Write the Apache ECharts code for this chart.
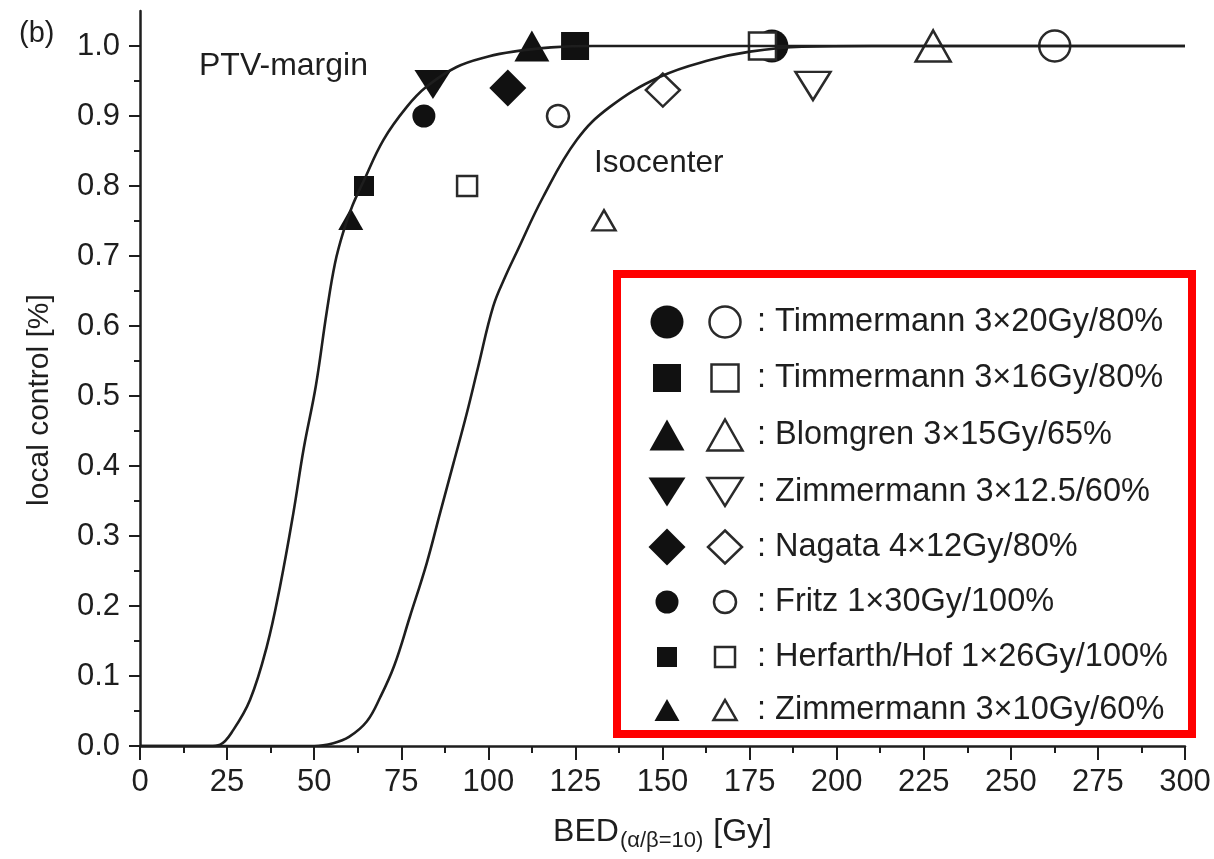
<!DOCTYPE html>
<html><head><meta charset="utf-8">
<script src="https://cdn.jsdelivr.net/npm/echarts@6/dist/echarts.min.js"></script>
<style>html,body{margin:0;padding:0;background:#fff}#c{width:1214px;height:859px}</style>
</head><body><div id="c"></div>
<script>
// ---- data ----
const studies = [
  'Timmermann 3×20Gy/80%',
  'Timmermann 3×16Gy/80%',
  'Blomgren 3×15Gy/65%',
  'Zimmermann 3×12.5/60%',
  'Nagata 4×12Gy/80%',
  'Fritz 1×30Gy/100%',
  'Herfarth/Hof 1×26Gy/100%',
  'Zimmermann 3×10Gy/60%'
];
// PTV-margin (filled symbols)
const ptvBED = [181.4, 124.9, 112.5, 84.1, 105.6, 81.5, 64.3, 60.5];
const ptvLC  = [1.0, 1.0, 1.0, 0.945, 0.94, 0.9, 0.8, 0.753];
// Isocenter (open symbols)
const isoBED = [262.6, 178.7, 227.7, 193.2, 150.1, 120.0, 93.9, 133.2];
const isoLC  = [1.0, 1.0, 1.0, 0.943, 0.937, 0.9, 0.8, 0.751];
// fitted curves
const curvePtvX = [0, 10, 20, 23, 26.8, 31.6, 36.4, 40.2, 44, 47, 50.5, 53.6, 56, 58.4, 61, 64.1, 69.9, 76.6, 82.3, 90.9, 100, 107.2, 118, 130, 150, 200, 250, 300];
const curvePtvY = [0, 0, 0, 0.002, 0.023, 0.066, 0.142, 0.228, 0.332, 0.425, 0.515, 0.62, 0.69, 0.735, 0.772, 0.806, 0.866, 0.913, 0.942, 0.97, 0.985, 0.992, 0.998, 1, 1, 1, 1, 1];
const curveIsoX = [0, 25, 50, 55.5, 60, 65.1, 69, 73, 77.5, 82.3, 86.1, 90, 93.8, 97, 101.4, 105, 108.1, 115.8, 125.4, 134.9, 149.3, 163.6, 175.1, 190, 210, 250, 300];
const curveIsoY = [0, 0, 0, 0.004, 0.013, 0.035, 0.07, 0.115, 0.185, 0.261, 0.332, 0.404, 0.475, 0.54, 0.628, 0.672, 0.705, 0.785, 0.866, 0.913, 0.956, 0.98, 0.992, 0.999, 1, 1, 1];
const yMajorTicks = [0, 0.1, 0.2, 0.3, 0.4, 0.5, 0.6, 0.7, 0.8, 0.9, 1.0];
const yMinorTicks = [0.05, 0.15, 0.25, 0.35, 0.45, 0.55, 0.65, 0.75, 0.85, 0.95];

// ---- styles ----
const FONT = '"Liberation Sans", Arial, Helvetica, sans-serif';
const INK = '#1e1e1e';
const shapes = ['circle', 'rect', 'triangle', 'triangle', 'diamond', 'circle', 'rect', 'triangle'];
const rotations = [0, 0, 0, 180, 0, 0, 0, 0];
const filledSizes = [[33, 33], [28, 28], [35, 31], [37, 29], [37, 37], [23, 23], [20, 20], [25, 22]];
const openSizes = [[31, 31], [27, 27], [35, 31], [35, 28], [34, 33], [22, 22], [20, 20], [23, 20]];
const legendRowsY = [322, 378, 435, 492, 547, 602, 657, 710];

const series = [];
studies.forEach((s, i) => {
  series.push({
    name: s + ' (PTV-margin)', type: 'scatter', z: 2,
    data: [[ptvBED[i], ptvLC[i]]],
    symbol: shapes[i], symbolRotate: rotations[i], symbolSize: filledSizes[i],
    itemStyle: { color: '#111', opacity: 1 }
  });
});
studies.forEach((s, i) => {
  series.push({
    name: s + ' (Isocenter)', type: 'scatter', z: 3,
    data: [[isoBED[i], isoLC[i]]],
    symbol: shapes[i], symbolRotate: rotations[i], symbolSize: openSizes[i],
    itemStyle: { color: '#fff', borderColor: '#2a2a2a', borderWidth: 2.5, opacity: 1 }
  });
});
series.push({
  name: 'PTV-margin fit', type: 'line', z: 4, symbol: 'none', smooth: 0.4,
  data: curvePtvX.map((x, i) => [x, curvePtvY[i]]),
  lineStyle: { color: INK, width: 2.6 }
});
series.push({
  name: 'Isocenter fit', type: 'line', z: 4, symbol: 'none', smooth: 0.4,
  data: curveIsoX.map((x, i) => [x, curveIsoY[i]]),
  lineStyle: { color: INK, width: 2.6 }
});

function legendSymbol(i, cx, cy, filled) {
  const sz = filled ? filledSizes[i] : openSizes[i];
  const w = sz[0], h = sz[1];
  const style = filled ? { fill: '#111', stroke: null } : { fill: '#fff', stroke: '#2a2a2a', lineWidth: 2.5 };
  const sh = shapes[i];
  if (sh === 'circle') return { type: 'circle', shape: { cx: cx, cy: cy, r: w / 2 }, style: style };
  if (sh === 'rect') return { type: 'rect', shape: { x: cx - w / 2, y: cy - h / 2, width: w, height: h }, style: style };
  if (sh === 'diamond') return { type: 'polygon', shape: { points: [[cx, cy - h / 2], [cx + w / 2, cy], [cx, cy + h / 2], [cx - w / 2, cy]] }, style: style };
  if (rotations[i] === 180) return { type: 'polygon', shape: { points: [[cx - w / 2, cy - h / 2], [cx + w / 2, cy - h / 2], [cx, cy + h / 2]] }, style: style };
  return { type: 'polygon', shape: { points: [[cx - w / 2, cy + h / 2], [cx + w / 2, cy + h / 2], [cx, cy - h / 2]] }, style: style };
}

const legendChildren = [{
  type: 'rect', shape: { x: 617, y: 274, width: 575, height: 460 },
  style: { fill: '#fff', stroke: '#ff0000', lineWidth: 8 }, z: 10
}];
studies.forEach((s, i) => {
  const cy = legendRowsY[i];
  const a = legendSymbol(i, 667, cy, true); a.z = 11; legendChildren.push(a);
  const b = legendSymbol(i, 725, cy, false); b.z = 11; legendChildren.push(b);
  legendChildren.push({
    type: 'text', x: 757, y: cy, z: 11,
    style: { text: ': ' + s, fontSize: 32.5, fontFamily: FONT, fill: INK, align: 'left', verticalAlign: 'middle', textAlign: 'left', textVerticalAlign: 'middle' }
  });
});

const annotations = [
  { type: 'text', x: 19, y: 34, style: { text: '(b)', fontSize: 29, fontFamily: FONT, fill: INK, verticalAlign: 'middle', textVerticalAlign: 'middle' } },
  { type: 'text', x: 199, y: 66, style: { text: 'PTV-margin', fontSize: 32, fontFamily: FONT, fill: INK, verticalAlign: 'middle', textVerticalAlign: 'middle' } },
  { type: 'text', x: 594, y: 163, style: { text: 'Isocenter', fontSize: 31.5, fontFamily: FONT, fill: INK, verticalAlign: 'middle', textVerticalAlign: 'middle' } },
  { type: 'text', x: 40, y: 400, rotation: Math.PI / 2, style: { text: 'local control [%]', fontSize: 30, fontFamily: FONT, fill: INK, align: 'center', verticalAlign: 'middle', textAlign: 'center', textVerticalAlign: 'middle' } }
];

const chart = echarts.init(document.getElementById('c'), null, { renderer: 'canvas' });
chart.setOption({
  animation: false,
  backgroundColor: '#fff',
  textStyle: { fontFamily: FONT },
  grid: { left: 140, right: 29, top: 11, bottom: 113, containLabel: false },
  xAxis: {
    type: 'value', min: 0, max: 300, interval: 25,
    axisLine: { show: true, onZero: false, lineStyle: { color: INK, width: 2.5 } },
    axisTick: { show: true, length: 14, lineStyle: { color: INK, width: 2 } },
    minorTick: { show: true, splitNumber: 2, length: 7, lineStyle: { color: INK, width: 2 } },
    splitLine: { show: false }, minorSplitLine: { show: false },
    axisLabel: { fontSize: 31, color: INK, margin: 21, fontFamily: FONT },
    name: '{a|BED}{s|(α/β=10)}{a| [Gy]}',
    nameLocation: 'middle', nameGap: 70,
    nameTextStyle: {
      color: INK, fontFamily: FONT, fontSize: 32,
      rich: {
        a: { fontSize: 32, fontFamily: FONT, color: INK, verticalAlign: 'top', lineHeight: 36 },
        s: { fontSize: 22, fontFamily: FONT, color: INK, verticalAlign: 'bottom', lineHeight: 26, padding: [20, 1, 0, 1] }
      }
    }
  },
  yAxis: [{
    type: 'value', min: 0, max: 1.05,
    axisLine: { show: true, onZero: false, lineStyle: { color: INK, width: 2.5 } },
    axisTick: { show: true, length: 11, customValues: yMajorTicks, lineStyle: { color: INK, width: 2 } },
    axisLabel: { fontSize: 31, color: INK, margin: 20, fontFamily: FONT, customValues: yMajorTicks, formatter: v => v.toFixed(1) },
    splitLine: { show: false }
  }, {
    type: 'value', min: 0, max: 1.05, position: 'left',
    axisLine: { show: false },
    axisTick: { show: true, length: 6, customValues: yMinorTicks, lineStyle: { color: INK, width: 2 } },
    axisLabel: { show: false },
    splitLine: { show: false }
  }],
  graphic: [{ type: 'group', children: legendChildren }].concat(annotations),
  series: series
});
</script>
</body></html>
